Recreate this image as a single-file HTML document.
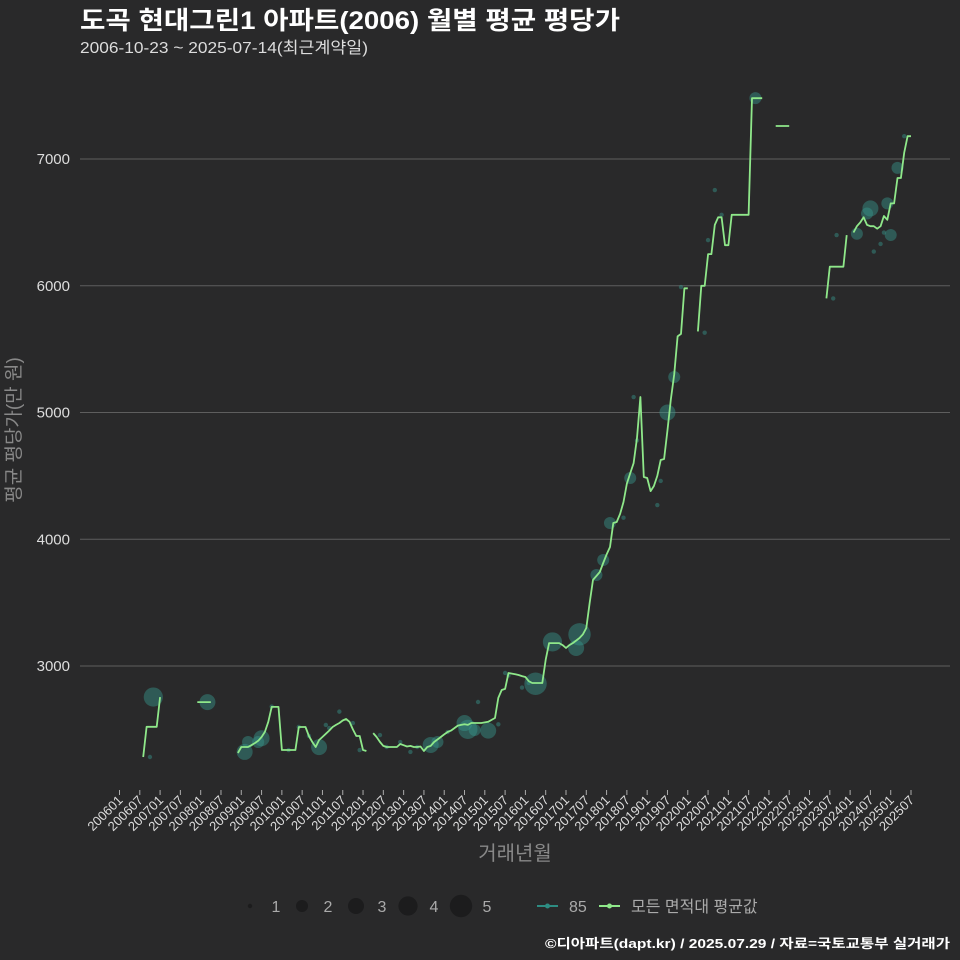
<!DOCTYPE html>
<html><head><meta charset="utf-8">
<style>
html,body{margin:0;padding:0;background:#29292a;}
svg{display:block;font-family:"Liberation Sans","Noto Sans CJK KR",sans-serif;}
</style></head>
<body>
<svg id="chart" width="960" height="960" viewBox="0 0 960 960" xmlns="http://www.w3.org/2000/svg">
<rect x="0" y="0" width="960" height="960" fill="#29292a"/>
<text x="80" y="29" fill="#ffffff" font-size="25" font-weight="bold" textLength="540" lengthAdjust="spacingAndGlyphs">도곡 현대그린1 아파트(2006) 월별 평균 평당가</text>
<text x="80" y="53" fill="#dddddd" font-size="16" textLength="288" lengthAdjust="spacingAndGlyphs">2006-10-23 ~ 2025-07-14(최근계약일)</text>
<g id="grid"></g>
<g id="yticks"></g>
<g id="xticks"></g>
<g id="bubbles"></g>
<g id="lines"></g>
<text x="20" y="430" fill="#888888" font-size="19" text-anchor="middle" transform="rotate(-90 20 430)">평균 평당가(만 원)</text>
<text x="515" y="860" fill="#888888" font-size="20" text-anchor="middle">거래년월</text>
<g id="legend"></g>
<text x="545" y="948" fill="#ffffff" font-size="13" font-weight="bold" textLength="405" lengthAdjust="spacingAndGlyphs">©디아파트(dapt.kr) / 2025.07.29 / 자료=국토교통부 실거래가</text>
</svg>
<script>
const yTicks = [3000, 4000, 5000, 6000, 7000];
const xTickLabels = [];
for (let y = 2006; y <= 2025; y++) { xTickLabels.push(y + "01"); xTickLabels.push(y + "07"); }
const lineMonths = [7,8,9,10,11,12,null,
23,24,25,26,27,null,
35,36,37,38,39,40,41,42,43,44,45,46,47,48,49,50,51,52,53,54,55,56,57,58,59,60,61,62,63,64,65,66,67,68,69,70,71,72,73,null,
75,76,77,78,79,80,81,82,83,84,85,86,87,88,89,90,91,92,93,94,95,96,97,98,99,100,101,102,103,104,105,106,107,108,109,110,111,112,113,114,115,116,117,118,119,120,121,122,123,124,125,126,127,128,129,130,131,132,133,134,135,136,137,138,139,140,141,142,143,144,145,146,147,148,149,150,151,152,153,154,155,156,157,158,159,160,161,162,163,164,165,166,167,168,null,
171,172,173,174,175,176,177,178,179,180,181,182,183,184,185,186,187,188,189,190,null,
194,195,196,197,198,null,
209,210,211,212,213,214,215,null,
217,218,219,220,221,222,223,224,225,226,227,228,229,230,231,232,233,234];
const lineValues = [2282,2520,2520,2520,2520,2755,null,
2715,2715,2715,2715,2715,null,
2314,2361,2361,2361,2375,2392,2410,2440,2480,2560,2677,2677,2677,2337,2337,2337,2337,2337,2519,2519,2519,2448,2400,2361,2416,2440,2465,2490,2519,2535,2550,2570,2582,2560,2500,2448,2448,2337,2329,null,
2471,2440,2400,2370,2361,2361,2361,2361,2385,2375,2365,2370,2361,2361,2365,2329,2361,2370,2400,2420,2440,2460,2479,2490,2510,2530,2535,2540,2535,2550,2550,2550,2550,2555,2560,2575,2590,2748,2811,2819,2945,2940,2935,2929,2920,2913,2880,2866,2866,2866,2866,3050,3181,3181,3181,3181,3165,3142,3165,3181,3200,3221,3250,3300,3500,3679,3710,3742,3813,3880,3939,4128,4136,4200,4294,4440,4523,4600,4800,5122,4491,4483,4380,4420,4500,4625,4633,4862,5100,5300,5600,5620,5980,5980,null,
5640,6000,6000,6250,6250,6480,6540,6540,6320,6320,6560,6560,6560,6560,6560,6560,7480,7480,7480,7480,null,
7260,7260,7260,7260,7260,null,
5900,6150,6150,6150,6150,6150,6400,null,
6420,6470,6500,6540,6480,6470,6470,6450,6470,6550,6520,6650,6650,6850,6850,7050,7180,7180];
const bubbleMonths = [9,10,26,37,38,41,42,45,50,53,56,59,61,62,65,69,71,77,79,83,86,88,92,94,97,102,103,105,106,109,112,114,115,119,121,123,128,135,136,141,143,145,149,151,152,153,159,160,162,164,166,173,174,176,178,188,211,212,218,221,222,223,225,226,227,228,230,232];
const bubbleValues = [2282,2755,2715,2322,2400,2400,2430,2680,2337,2519,2448,2360,2535,2510,2640,2550,2337,2455,2361,2400,2322,2361,2377,2400,2479,2550,2500,2495,2716,2490,2540,2945,2925,2830,2866,2860,3190,3142,3250,3718,3836,4128,4170,4483,5122,4780,4270,4460,5000,5280,5990,5630,6360,6755,6560,7480,5900,6400,6410,6570,6610,6270,6330,6420,6650,6400,6930,7180];
const bubbleCounts = [1,4,3,3,2,2,3,1,1,1,1,3,1,1,1,1,1,1,1,1,1,1,3,2,1,3,4,2,1,3,1,1,1,1,1,5,4,3,5,2,2,2,1,2,1,1,1,1,3,2,1,1,1,1,1,2,1,1,2,2,3,1,1,1,2,2,2,1];
const legendCounts = [1,2,3,4,5];

const NS = "http://www.w3.org/2000/svg";
function xScale(m){ return 119.5 + m * 3.3825; }
function yScale(v){ return 666 - (v - 3000) * 0.12675; }
function rScale(c){ return [0,2.2,6,8,9.6,11.2][c]; }
function mk(tag, attrs, parent){ const e=document.createElementNS(NS,tag); for(const k in attrs) e.setAttribute(k,attrs[k]); parent.appendChild(e); return e; }

const grid=document.getElementById('grid'), yt=document.getElementById('yticks'), xt=document.getElementById('xticks');
yTicks.forEach(v=>{
  const l=mk('line',{x1:80,x2:950,y1:yScale(v),y2:yScale(v),stroke:'#5e5e5e','stroke-width':1},grid);
  
  
  const t=mk('text',{x:70,y:yScale(v)+5,fill:'#dddddd','font-size':15,'text-anchor':'end'},yt);
  t.textContent=v;
  
  
});
xTickLabels.forEach((lab,i)=>{
  const x=xScale(i*6);
  const tk=mk('line',{x1:x,x2:x,y1:790,y2:795,stroke:'#aaaaaa','stroke-width':1},xt);
  
  
  const t=mk('text',{x:x+4,y:801,fill:'#dddddd','font-size':13,'text-anchor':'end',transform:'rotate(-45 '+(x+4)+' 801)'},xt);
  t.textContent=lab;
  
  
});
const bg=document.getElementById('bubbles');
bubbleMonths.forEach((m,i)=>{
  const c=mk('circle',{cx:xScale(m),cy:yScale(bubbleValues[i]),r:rScale(bubbleCounts[i]),fill:'rgba(55,150,140,0.45)'},bg);
  
  
});
const lg=document.getElementById('lines');
let d='', pen=false;
lineMonths.forEach((m,i)=>{
  if(m===null||lineValues[i]===null){pen=false;return;}
  d+=(pen?'L':'M')+xScale(m).toFixed(1)+' '+yScale(lineValues[i]).toFixed(1)+' ';
  pen=true;
});
const p=mk('path',{d:d,fill:'none',stroke:'#8fe88a','stroke-width':1.8,'stroke-linejoin':'round'},lg);



const leg=document.getElementById('legend');
const lx=[250,302,356,408,461];
legendCounts.forEach((c,i)=>{
  const ci=mk('circle',{cx:lx[i],cy:906,r:rScale(c),fill:'#1c1c1d'},leg);
  
  
  const t=mk('text',{x:lx[i]+26,y:912,fill:'#aaaaaa','font-size':16,'text-anchor':'middle'},leg);
  t.textContent=c;
  
  
});
const l1=mk('line',{x1:537,x2:558,y1:906,y2:906,stroke:'#2d8c82','stroke-width':2},leg);


const c1=mk('circle',{cx:547.5,cy:906,r:2.5,fill:'#2d8c82'},leg);


const t1=mk('text',{x:569,y:912,fill:'#aaaaaa','font-size':16},leg);
t1.textContent='85';


const l2=mk('line',{x1:599,x2:620,y1:906,y2:906,stroke:'#8fe88a','stroke-width':2},leg);


const c2=mk('circle',{cx:609.5,cy:906,r:2.5,fill:'#8fe88a'},leg);


const t2=mk('text',{x:631,y:912,fill:'#aaaaaa','font-size':16},leg);
t2.textContent='모든 면적대 평균값';


</script>
</body></html>
